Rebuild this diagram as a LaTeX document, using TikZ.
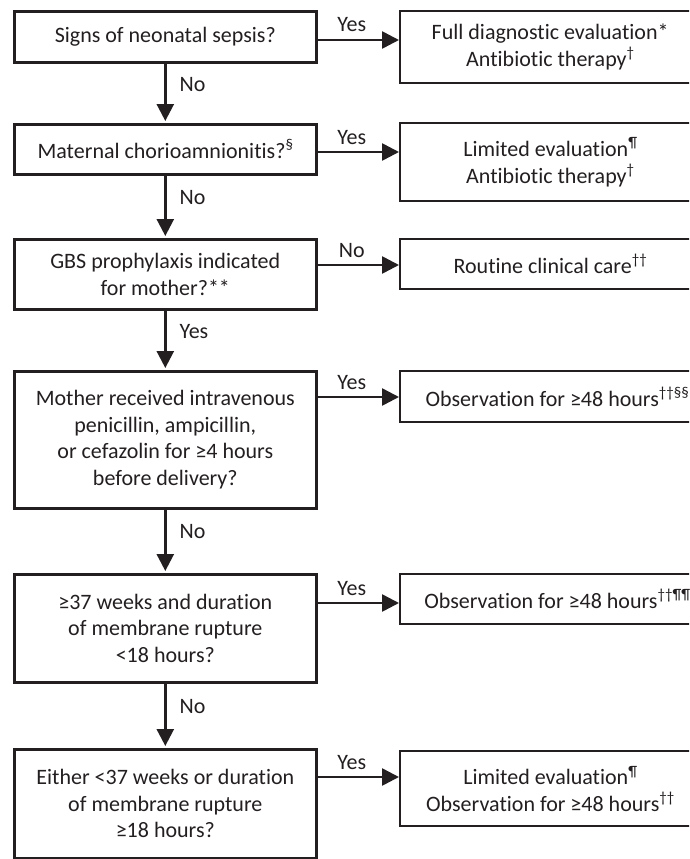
\documentclass[tikz,border=0pt]{standalone}
\usepackage{fontspec}
\setmainfont{Carlito}[Ligatures=NoCommon]
\usetikzlibrary{arrows.meta}
\definecolor{ink}{HTML}{231F20}
\newcommand{\supr}[1]{\raisebox{0.40em}{\fontsize{15}{15}\selectfont #1}}
\begin{document}
\begin{tikzpicture}[x=1pt,y=-1pt,
  every node/.style={font=\fontsize{22}{26.5}\selectfont, text=ink},
  qbox/.style={draw=ink, line width=2.6pt, rectangle, anchor=north west, minimum width=302pt, align=center, inner sep=0pt},
  rbox/.style={draw=ink, line width=2.4pt, rectangle, anchor=north west, minimum width=300pt, align=center, inner sep=0pt},
  arr/.style={draw=ink, line width=2.6pt, -{Triangle[length=17pt,width=17pt]}},
  vlab/.style={anchor=west, inner sep=0pt, xshift=13pt},
  hlab/.style={anchor=base, inner sep=0pt, yshift=8pt}
]
\useasboundingbox (0,0) rectangle (689,859);
\clip (0,0) rectangle (689,859);

% left question boxes
\node[qbox, minimum height=51pt] (q1) at (13,10) {Signs of neonatal sepsis?};
\node[qbox, minimum height=50pt] (q2) at (13,123) {Maternal chorioamnionitis?\supr{§}};
\node[qbox, minimum height=70pt] (q3) at (13,238) {GBS prophylaxis indicated\\for mother?**};
\node[qbox, minimum height=137pt] (q4) at (13,370) {Mother received intravenous\\penicillin, ampicillin,\\or cefazolin for ≥4 hours\\before delivery?};
\node[qbox, minimum height=108pt] (q5) at (13,573) {≥37 weeks and duration\\of membrane rupture\\<18 hours?};
\node[qbox, minimum height=109pt] (q6) at (13,748) {Either <37 weeks or duration\\of membrane rupture\\≥18 hours?};

% right outcome boxes
\node[rbox, minimum height=72pt] (r1) at (399,10) {Full diagnostic evaluation*\\Antibiotic therapy\supr{†}};
\node[rbox, minimum height=78pt] (r2) at (399,122) {Limited evaluation\supr{¶}\\Antibiotic therapy\supr{†}};
\node[rbox, minimum height=50pt] (r3) at (399,238) {Routine clinical care\supr{††}};
\node[rbox, minimum height=51pt] (r4) at (399,370) {\hspace*{14pt}Observation for ≥48 hours\supr{††§§}};
\node[rbox, minimum height=50pt] (r5) at (399,573) {\hspace*{14pt}Observation for ≥48 hours\supr{††¶¶}};
\node[rbox, minimum height=75pt] (r6) at (399,750) {Limited evaluation\supr{¶}\\Observation for ≥48 hours\supr{††}};

% arrow heights
\coordinate (h1) at (0,40);
\coordinate (h2) at (0,152);
\coordinate (h3) at (0,265);
\coordinate (h4) at (0,397);
\coordinate (h5) at (0,603);
\coordinate (h6) at (0,777);

% horizontal arrows
\draw[arr] (q1.east |- h1) -- node[hlab, pos=0.42] {Yes} (r1.west |- h1);
\draw[arr] (q2.east |- h2) -- node[hlab, pos=0.42] {Yes} (r2.west |- h2);
\draw[arr] (q3.east |- h3) -- node[hlab, pos=0.42] {No} (r3.west |- h3);
\draw[arr] (q4.east |- h4) -- node[hlab, pos=0.42] {Yes} (r4.west |- h4);
\draw[arr] (q5.east |- h5) -- node[hlab, pos=0.42] {Yes} (r5.west |- h5);
\draw[arr] (q6.east |- h6) -- node[hlab, pos=0.42] {Yes} (r6.west |- h6);

% vertical arrows
\draw[arr, shorten >=2pt] (q1.south) -- node[vlab, pos=0.35] {No} (q2.north);
\draw[arr, shorten >=2pt] (q2.south) -- node[vlab, pos=0.35] {No} (q3.north);
\draw[arr, shorten >=2pt] (q3.south) -- node[vlab, pos=0.35] {Yes} (q4.north);
\draw[arr, shorten >=2pt] (q4.south) -- node[vlab, pos=0.35] {No} (q5.north);
\draw[arr, shorten >=2pt] (q5.south) -- node[vlab, pos=0.35] {No} (q6.north);
\end{tikzpicture}
\end{document}
